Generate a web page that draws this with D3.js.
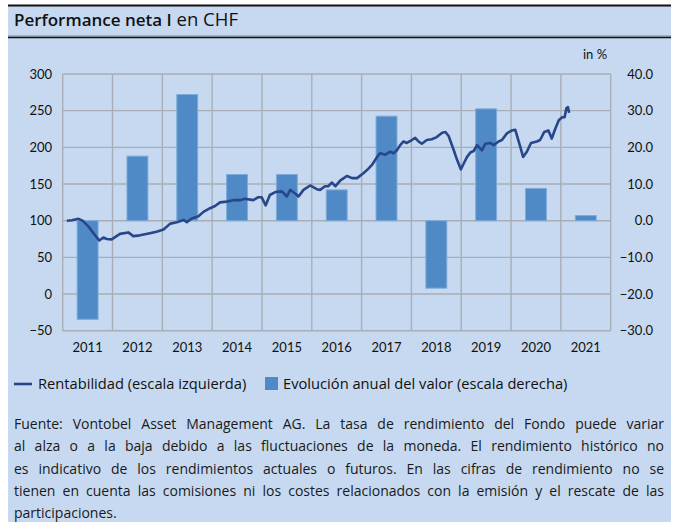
<!DOCTYPE html>
<html><head><meta charset="utf-8">
<script src="https://cdn.jsdelivr.net/npm/d3@7"></script>
<style>
body{margin:0;background:#fff;}
#wrap{position:relative;width:675px;height:522px;font-family:Lato,"Open Sans",sans-serif;}
#foot{position:absolute;left:14px;top:413px;width:650px;font-family:"Open Sans",sans-serif;font-size:14px;line-height:22.3px;text-align:justify;color:#1a1a1a;}
#foot .j{text-align-last:justify;}
</style></head><body>
<div id="wrap"><svg id="chart" width="675" height="522"></svg>
<div id="foot"></div>
</div>
<script>
const years = ["2011","2012","2013","2014","2015","2016","2017","2018","2019","2020","2021"];
const annual = [-26.9,17.6,34.4,12.6,12.6,8.4,28.5,-18.4,30.5,8.8,1.4];
const leftTicks = [-50,0,50,100,150,200,250,300];
const rightTicks = [-30,-20,-10,0,10,20,30,40];
const footLines = [
 "Fuente: Vontobel Asset Management AG. La tasa de rendimiento del Fondo puede variar",
 "al alza o a la baja debido a las fluctuaciones de la moneda. El rendimiento histórico no",
 "es indicativo de los rendimientos actuales o futuros. En las cifras de rendimiento no se",
 "tienen en cuenta las comisiones ni los costes relacionados con la emisión y el rescate de las",
 "participaciones."
];
// months since Jan 2011 and index value (left scale)
const lineMonths = [1.0,2.2,3.8,4.8,6.2,7.4,8.8,9.8,10.6,11.8,13.8,15.8,17.0,18.6,21.0,22.6,24.3,25.9,27.5,29.1,29.9,31.1,32.7,33.9,35.5,36.7,37.9,39.5,41.1,42.7,43.9,45.9,47.1,47.9,48.9,49.9,51.2,52.8,54.0,54.8,56.0,56.8,58.0,59.6,61.2,62.0,63.2,64.0,64.8,65.7,66.9,68.5,69.7,70.9,72.5,73.3,74.5,75.3,76.1,76.5,77.7,78.9,79.7,80.5,81.3,82.1,82.9,84.1,84.9,85.7,86.5,87.7,88.9,90.1,91.4,92.2,93.0,94.2,95.0,95.9,96.6,97.4,98.2,99.0,99.8,101.0,101.8,103.0,103.8,105.0,105.8,107.0,108.2,109.0,110.1,110.9,111.8,112.8,114.2,115.0,116.0,117.0,117.8,118.7,119.5,120.3,120.9,121.3,121.7,122.0];
const lineValues = [100,100.5,102.5,100,92,83,73,77,75,74.5,82,84,79,80,83,85,88,96,98,101,98,103,106,112,117,120,125,126,128,128,130,128,132,132,121,135,139,140,133,142,137,133,142,148,143,142,147,147,152,147,155,161,158,158,165,169,176,183,190,192,190,194,192,196,203,208,206,210,213,208,205,210,211,214,220,221,215,196,183,170,178,187,193,195,203,196,205,206,203,208,210,219,223,224,203,187,194,206,208,210,221,223,212,226,237,241,241,253,255,247];

d3.select("#foot").selectAll("div").data(footLines).join("div")
  .attr("class",(d,i)=>i<footLines.length-1?"j":null).text(d=>d);

const svg = d3.select("#chart");
const bg = "#c6d9f0";
svg.append("rect").attr("x",8).attr("y",5).attr("width",663).attr("height",517).attr("fill",bg);
svg.append("line").attr("x1",8).attr("x2",671).attr("y1",5.5).attr("y2",5.5).attr("stroke","#111").attr("stroke-width",2);
svg.append("line").attr("x1",8).attr("x2",671).attr("y1",36).attr("y2",36).attr("stroke","#7f8c99").attr("stroke-width",1);
svg.append("line").attr("x1",8).attr("x2",671).attr("y1",37.5).attr("y2",37.5).attr("stroke","#111").attr("stroke-width",1.5);
const title = svg.append("text").attr("x",14).attr("y",26).attr("font-family","'Open Sans',sans-serif").attr("fill","#111");
title.append("tspan").attr("font-weight","600").attr("font-size",17).text("Performance neta I");
title.append("tspan").attr("font-size",18.5).text(" en CHF");

const x0 = 62.7, x1 = 610.7, yTop = 74, yBot = 330.7;
const xb = d3.scaleBand().domain(years).range([x0,x1]).padding(0);
const xt = d3.scaleLinear().domain([2011,2022]).range([x0,x1]);
const yl = d3.scaleLinear().domain([-50,300]).range([yBot,yTop]);
const yr = d3.scaleLinear().domain([-30,40]).range([yBot,yTop]);

const grid = svg.append("g").attr("stroke","#a8aeb5").attr("stroke-width",1.4);
leftTicks.forEach(t=>grid.append("line").attr("x1",x0).attr("x2",x1).attr("y1",yl(t)).attr("y2",yl(t)));
years.forEach(y=>grid.append("line").attr("x1",xb(y)).attr("x2",xb(y)).attr("y1",yTop).attr("y2",yBot));
grid.append("line").attr("x1",x1).attr("x2",x1).attr("y1",yTop).attr("y2",yBot);

const bw = xb.bandwidth()*0.42;
svg.append("g").selectAll("rect").data(years).join("rect")
  .attr("x",d=>xb(d)+xb.bandwidth()/2-bw/2)
  .attr("width",bw)
  .attr("y",(d,i)=>yr(Math.max(0,annual[i])))
  .attr("height",(d,i)=>Math.abs(yr(annual[i])-yr(0)))
  .attr("fill","#4f8ac6").attr("stroke","#7eabd9").attr("stroke-width",1);

const pts = lineMonths.map((m,i)=>[2011+m/12,lineValues[i]]);
svg.append("path").datum(pts)
  .attr("d",d3.line().x(d=>xt(d[0])).y(d=>yl(d[1])))
  .attr("fill","none").attr("stroke","#27478a").attr("stroke-width",2.6).attr("stroke-linejoin","round");

const axL = d3.axisLeft(yl).tickValues(leftTicks).tickSize(0).tickPadding(0);
const gL = svg.append("g").attr("transform","translate(52,0)").call(axL);
const axR = d3.axisRight(yr).tickValues(rightTicks).tickSize(0).tickFormat(d3.format(".1f"));
const gR = svg.append("g").attr("transform","translate(618,0)").call(axR);
gR.selectAll("text").attr("text-anchor","end").attr("x",35);
const axB = d3.axisBottom(xb).tickSize(0).tickPadding(0);
const gB = svg.append("g").attr("transform","translate(0,343)").call(axB);
[gL,gR,gB].forEach(g=>{g.select(".domain").remove();g.selectAll("text").attr("font-size",13).attr("font-family","Lato,'Open Sans',sans-serif").attr("fill","#111");});
gB.selectAll("text").attr("dy","0.71em");

svg.append("text").attr("x",583).attr("y",59).attr("font-size",13).attr("fill","#111").text("in %");

// legend
const lg = svg.append("g").attr("font-size",14.7).attr("font-family","'Open Sans',sans-serif").attr("fill","#111");
lg.append("line").attr("x1",14).attr("x2",32).attr("y1",384).attr("y2",384).attr("stroke","#27478a").attr("stroke-width",2.6);
lg.append("text").attr("x",38).attr("y",389).text("Rentabilidad (escala izquierda)");
lg.append("rect").attr("x",265).attr("y",377).attr("width",13).attr("height",13).attr("fill","#4f8ac6");
lg.append("text").attr("x",283).attr("y",389).text("Evolución anual del valor (escala derecha)");
</script>
</body></html>
